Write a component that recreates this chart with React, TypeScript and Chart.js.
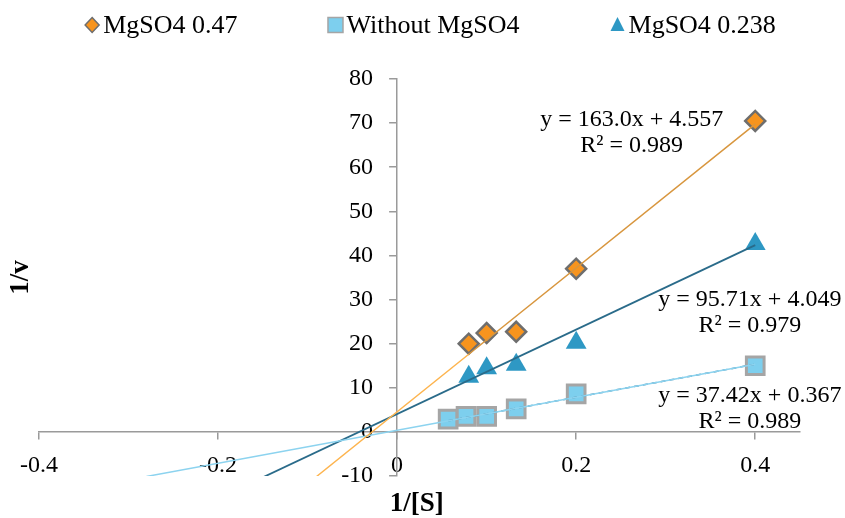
import React, { useEffect, useRef } from 'react';
import { Chart, registerables } from 'chart.js';

Chart.register(...registerables);

const SERIF = '"Liberation Serif", "Times New Roman", serif';

// ---- data ----
const seriesNames = ['MgSO4 0.47', 'Without MgSO4', 'MgSO4 0.238'];

const mg047X = [0.08, 0.1, 0.133, 0.2, 0.4];
const mg047Y = [20.0, 22.4, 22.7, 37.0, 70.5];

const withoutX = [0.057, 0.077, 0.1, 0.133, 0.2, 0.4];
const withoutY = [2.9, 3.5, 3.5, 5.2, 8.6, 15.0];

const mg0238X = [0.08, 0.1, 0.133, 0.2, 0.4];
const mg0238Y = [12.5, 14.4, 15.2, 20.2, 42.6];

// linear trendlines as printed on the chart (same order as seriesNames)
const trendSlope = [163.0, 37.42, 95.71];
const trendIntercept = [4.557, 0.367, 4.049];
const trendR2 = [0.989, 0.989, 0.979];
const trendFromX = [-0.09, -0.28, -0.15]; // backward forecast start
const trendToX = [0.4, 0.4, 0.4];

const xTicks = [-0.4, -0.2, 0, 0.2, 0.4];
const yTicks = [-10, 0, 10, 20, 30, 40, 50, 60, 70, 80];
const xTitle = '1/[S]';
const yTitle = '1/v';

// ---- styling / layout (not data) ----
// anchor of each equation label, in axis units (same order as seriesNames)
const eqAnchor = [
  { x: 0.262, y: 70.7 },
  { x: 0.394, y: 8.2 },
  { x: 0.394, y: 29.9 },
];
const legendStyles = [
  { shape: 'diamond', fill: '#F7941E', stroke: '#6E6E6E' },
  { shape: 'square', fill: '#7DCFEE', stroke: '#A5A5A5' },
  { shape: 'triangle', fill: '#2E98C4', stroke: '' },
];

const trendPts = (i: number, from: number, to: number) => [
  { x: from, y: trendSlope[i] * from + trendIntercept[i] },
  { x: to, y: trendSlope[i] * to + trendIntercept[i] },
];
const pts = (xs: number[], ys: number[]) => xs.map((x, i) => ({ x, y: ys[i] }));

function drawMarker(ctx: CanvasRenderingContext2D, shape: string, x: number, y: number, fill: string, stroke: string) {
  ctx.beginPath();
  if (shape === 'diamond') {
    ctx.moveTo(x, y - 7.5);
    ctx.lineTo(x + 7, y);
    ctx.lineTo(x, y + 7.5);
    ctx.lineTo(x - 7, y);
    ctx.closePath();
  } else if (shape === 'square') {
    ctx.rect(x - 7.5, y - 7.5, 15, 15);
  } else {
    ctx.moveTo(x, y - 8);
    ctx.lineTo(x + 7, y + 6);
    ctx.lineTo(x - 7, y + 6);
    ctx.closePath();
  }
  ctx.fillStyle = fill;
  ctx.fill();
  if (stroke) {
    ctx.strokeStyle = stroke;
    ctx.lineWidth = 1.5;
    ctx.stroke();
  }
}

const overlayPlugin = {
  id: 'overlay',
  afterLayout(chart: any) {
    // put the vertical axis where x = 0 (its box spans from the canvas edge to the axis)
    const xs = chart.scales.x;
    const ys = chart.scales.y;
    const x0 = xs.getPixelForValue(0);
    ys.left = 0;
    ys.right = x0;
    ys.width = x0;
  },
  afterDraw(chart: any) {
    const { ctx, chartArea, scales } = chart;
    const xs = scales.x;
    const ys = scales.y;
    ctx.save();
    ctx.fillStyle = '#000';
    ctx.textAlign = 'center';
    ctx.textBaseline = 'middle';

    // trendline equations
    ctx.font = `24px ${SERIF}`;
    for (let i = 0; i < trendSlope.length; i++) {
      const px = xs.getPixelForValue(eqAnchor[i].x);
      const py = ys.getPixelForValue(eqAnchor[i].y);
      ctx.fillText(`y = ${trendSlope[i].toPrecision(4)}x + ${trendIntercept[i].toFixed(3)}`, px, py);
      ctx.fillText(`R² = ${trendR2[i].toFixed(3)}`, px, py + 26);
    }

    // axis titles
    ctx.font = `bold 27px ${SERIF}`;
    ctx.fillText(xTitle, xs.getPixelForValue(0.022), chartArea.bottom + 28);
    ctx.save();
    ctx.translate(chartArea.left - 18, (chartArea.top + chartArea.bottom) / 2);
    ctx.rotate(-Math.PI / 2);
    ctx.fillText(yTitle, 0, 0);
    ctx.restore();

    // legend
    ctx.font = `26px ${SERIF}`;
    ctx.textAlign = 'left';
    const markerToText = 11;
    const itemGap = 98;
    const half = 7;
    const widths = seriesNames.map((n) => ctx.measureText(n).width);
    const total = half + widths.reduce((a, b) => a + b, 0) + seriesNames.length * markerToText + (seriesNames.length - 1) * itemGap;
    let cx = chart.width / 2 + 8 - total / 2 + half;
    const ly = 25;
    seriesNames.forEach((name, i) => {
      const st = legendStyles[i];
      drawMarker(ctx, st.shape, cx, ly, st.fill, st.stroke);
      ctx.fillStyle = '#000';
      ctx.fillText(name, cx + markerToText, ly + 1);
      cx += markerToText + widths[i] + itemGap;
    });
    ctx.restore();
  },
};

export default function App() {
  const ref = useRef<HTMLCanvasElement>(null);

  useEffect(() => {
    const canvas = ref.current;
    if (!canvas) return;
    const axisColor = '#9A9A9A';
    const tickFont = { family: SERIF, size: 24 };

    const chart = new Chart(canvas, {
      type: 'scatter',
      data: {
        datasets: [
          {
            label: 'trend 0.47 forecast',
            data: trendPts(0, trendFromX[0], mg047X[0]),
            showLine: true, borderColor: '#FDB44E', borderWidth: 1.5, pointRadius: 0, order: 0,
          },
          {
            label: 'trend 0.47',
            data: trendPts(0, mg047X[0], trendToX[0]),
            showLine: true, borderColor: '#D8963E', borderWidth: 1.5, pointRadius: 0, order: 0,
          },
          {
            label: 'trend without',
            data: trendPts(1, trendFromX[1], trendToX[1]),
            showLine: true, borderColor: '#8CD3EF', borderWidth: 1.5, pointRadius: 0, order: 0,
          },
          {
            label: 'trend without (data range)',
            data: trendPts(1, withoutX[0], trendToX[1]),
            showLine: true, borderColor: '#4F8EAE', borderDash: [5, 4], borderWidth: 1.5, pointRadius: 0, order: 0,
          },
          {
            label: 'trend 0.238',
            data: trendPts(2, trendFromX[2], trendToX[2]),
            showLine: true, borderColor: '#2A6B8A', borderWidth: 1.8, pointRadius: 0, order: 0,
          },
          {
            label: seriesNames[1],
            data: pts(withoutX, withoutY),
            pointStyle: 'rect', pointRadius: 12.5, pointHoverRadius: 12.5,
            pointBackgroundColor: '#7DCFEE', pointBorderColor: '#A5A5A5', pointBorderWidth: 3,
            showLine: false, order: 1,
          },
          {
            label: seriesNames[2],
            data: pts(mg0238X, mg0238Y),
            pointStyle: 'triangle', pointRadius: 12, pointHoverRadius: 12,
            pointBackgroundColor: '#2E98C4', pointBorderColor: '#2E98C4', pointBorderWidth: 0,
            showLine: false, order: 1,
          },
          {
            label: seriesNames[0],
            data: pts(mg047X, mg047Y),
            pointStyle: 'rectRot', pointRadius: 10, pointHoverRadius: 10,
            pointBackgroundColor: '#F7941E', pointBorderColor: '#6E6E6E', pointBorderWidth: 2.5,
            showLine: false, order: 1,
          },
        ],
      },
      options: {
        animation: false,
        responsive: false,
        events: [],
        layout: { padding: { left: 39, right: 45, top: 79, bottom: 42 } },
        plugins: {
          legend: { display: false },
          tooltip: { enabled: false },
          title: { display: false },
        },
        scales: {
          x: {
            type: 'linear',
            position: { y: 0 },
            min: -0.4,
            max: 0.45,
            afterFit: (s: any) => { s.height = 0; },
            afterBuildTicks: (s: any) => { s.ticks = xTicks.map((v) => ({ value: v })); },
            ticks: {
              autoSkip: false, maxRotation: 0, color: '#000', font: tickFont, padding: 12,
              callback: (v: any) => String(Math.round(Number(v) * 10) / 10),
            },
            grid: { drawOnChartArea: false, drawTicks: true, tickLength: 7, color: axisColor, lineWidth: 1.5 },
            border: { display: true, color: axisColor, width: 1.5 },
          },
          y: {
            type: 'linear',
            position: 'left',
            min: -10,
            max: 80,
            afterFit: (s: any) => { s.width = 0; },
            afterBuildTicks: (s: any) => { s.ticks = yTicks.map((v) => ({ value: v })); },
            ticks: { autoSkip: false, color: '#000', font: tickFont, padding: 16 },
            grid: { drawOnChartArea: false, drawTicks: true, tickLength: 8, color: axisColor, lineWidth: 1.5 },
            border: { display: true, color: axisColor, width: 1.5 },
          },
        },
      },
      plugins: [overlayPlugin],
    } as any);

    return () => chart.destroy();
  }, []);

  return (
    <div style={{ position: 'fixed', left: 0, top: 0, width: 845, height: 518, background: '#fff' }}>
      <canvas ref={ref} width={845} height={518} style={{ width: 845, height: 518, display: 'block' }} />
    </div>
  );
}
